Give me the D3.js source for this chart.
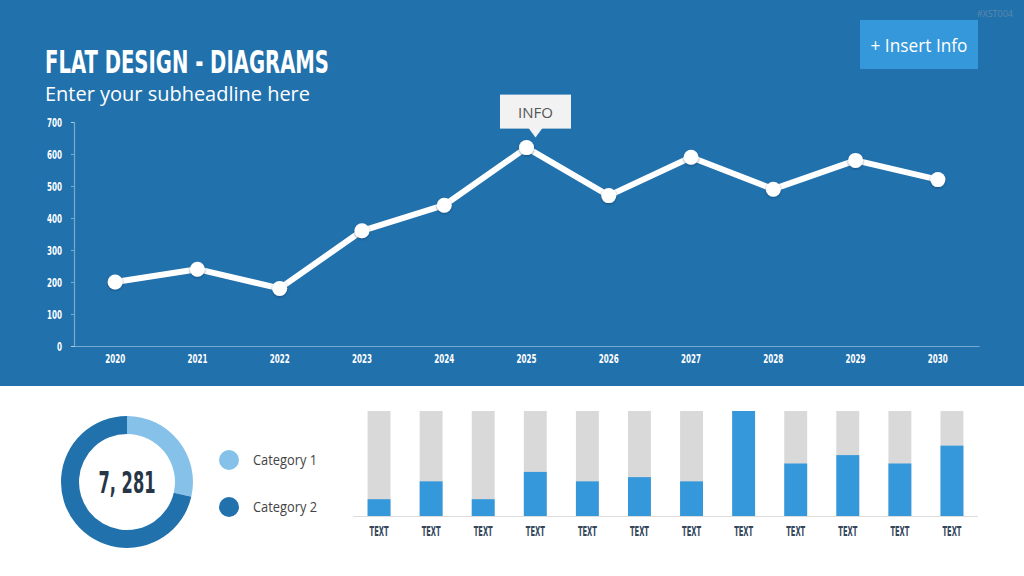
<!DOCTYPE html>
<html>
<head>
<meta charset="utf-8">
<script src="https://cdn.jsdelivr.net/npm/d3@7"></script>
<style>
  body { margin: 0; background: #fff; }
  svg { display: block; }
  .cond { font-family: "DejaVu Sans Condensed", "Liberation Sans Narrow", sans-serif; font-stretch: condensed; font-weight: bold; }
  .body { font-family: "Open Sans", "Noto Sans", sans-serif; }
</style>
</head>
<body>
<div id="chart"></div>
<script>
// line chart data
const years = ['2020', '2021', '2022', '2023', '2024', '2025', '2026', '2027', '2028', '2029', '2030'];
const lineValues = [200, 240, 180, 360, 440, 620, 470, 590, 490, 580, 520];
const yTicks = [0, 100, 200, 300, 400, 500, 600, 700];
const infoYear = '2025';

// donut data
const donutLabels = ['Category 1', 'Category 2'];
const donutValues = [28.6, 71.4];
const donutTotal = '7, 281';

// bar chart data (percent filled)
const barLabels = ['TEXT', 'TEXT', 'TEXT', 'TEXT', 'TEXT', 'TEXT', 'TEXT', 'TEXT', 'TEXT', 'TEXT', 'TEXT', 'TEXT'];
const barValues = [16, 33, 16, 42, 33, 37, 33, 100, 50, 58, 50, 67];
const barMax = 100;

let width = 1024, height = 576;
let blue = '#2171ad', brightBlue = '#3598db', lightBlue = '#85c1e9';

let svg = d3.select('#chart')
  .append('svg')
  .attr('width', width)
  .attr('height', height);

// drop shadow for the line markers
let defs = svg.append('defs');
let shadow = defs.append('filter').attr('id', 'shadow')
  .attr('x', '-50%').attr('y', '-50%').attr('width', '200%').attr('height', '200%');
shadow.append('feDropShadow')
  .attr('dx', 0).attr('dy', 1).attr('stdDeviation', 1)
  .attr('flood-color', '#0b3a5e').attr('flood-opacity', 0.6);

// top blue panel
svg.append('rect')
  .attr('width', width)
  .attr('height', 386)
  .attr('fill', blue);

svg.append('text')
  .attr('class', 'cond')
  .attr('x', 45).attr('y', 73)
  .attr('font-size', 32)
  .attr('textLength', 284)
  .attr('lengthAdjust', 'spacingAndGlyphs')
  .attr('fill', '#fff')
  .text('FLAT DESIGN - DIAGRAMS');

svg.append('text')
  .attr('class', 'body')
  .attr('x', 45).attr('y', 101)
  .attr('font-size', 20)
  .attr('textLength', 265)
  .attr('lengthAdjust', 'spacingAndGlyphs')
  .attr('fill', '#fff')
  .text('Enter your subheadline here');

svg.append('text')
  .attr('class', 'body')
  .attr('x', 1013).attr('y', 17)
  .attr('text-anchor', 'end')
  .attr('font-size', 9)
  .attr('fill', '#5d87aa')
  .text('#XST004');

// insert info button
svg.append('rect')
  .attr('x', 860).attr('y', 20)
  .attr('width', 118).attr('height', 49)
  .attr('fill', brightBlue);
svg.append('text')
  .attr('class', 'body')
  .attr('x', 919).attr('y', 52)
  .attr('text-anchor', 'middle')
  .attr('font-size', 18)
  .attr('textLength', 97)
  .attr('lengthAdjust', 'spacingAndGlyphs')
  .attr('fill', '#fff')
  .text('+ Insert Info');

// Line chart
let x = d3.scaleBand().domain(years).range([74, 979]);
let y = d3.scaleLinear().domain([0, 700]).range([346, 122]);
let cx = d => x(d) + x.bandwidth() / 2;

let yAxis = svg.append('g')
  .attr('class', 'cond')
  .attr('transform', 'translate(74,0)')
  .call(d3.axisLeft(y).tickValues(yTicks).tickSize(3).tickPadding(9));
let xAxis = svg.append('g')
  .attr('class', 'cond')
  .attr('transform', 'translate(0,346)')
  .call(d3.axisBottom(x).tickSize(0).tickPadding(8));
[yAxis, xAxis].forEach(function(ax) {
  ax.select('.domain').attr('stroke', 'rgba(255,255,255,0.4)').attr('stroke-width', 1.2);
  ax.selectAll('.tick line').attr('stroke', 'rgba(255,255,255,0.4)');
  ax.selectAll('.tick text')
    .attr('fill', '#fff')
    .attr('font-size', 13)
    .attr('textLength', function() { return this.textContent.length * 5; })
    .attr('lengthAdjust', 'spacingAndGlyphs');
});

let line = d3.line()
  .x((d, i) => cx(years[i]))
  .y(d => y(d));

svg.append('path')
  .datum(lineValues)
  .attr('d', line)
  .attr('fill', 'none')
  .attr('stroke', '#fff')
  .attr('stroke-width', 6)
  .attr('stroke-linejoin', 'round');

svg.selectAll('.marker')
  .data(lineValues)
  .enter().append('circle')
  .attr('class', 'marker')
  .attr('cx', (d, i) => cx(years[i]))
  .attr('cy', d => y(d))
  .attr('r', 7.5)
  .attr('fill', '#fff')
  .attr('filter', 'url(#shadow)');

// INFO callout over the peak (pointer sits a little right of the point)
let infoX = cx(infoYear) + 9;
let infoY = y(lineValues[years.indexOf(infoYear)]);
let callout = svg.append('g')
  .attr('transform', `translate(${infoX},${infoY})`);
callout.append('rect')
  .attr('x', -35.5).attr('y', -53)
  .attr('width', 71).attr('height', 34)
  .attr('fill', '#f2f2f2');
callout.append('path')
  .attr('d', 'M-7,-19.5 L7,-19.5 L0,-10 Z')
  .attr('fill', '#f2f2f2');
callout.append('text')
  .attr('class', 'body')
  .attr('x', 0).attr('y', -30)
  .attr('text-anchor', 'middle')
  .attr('font-size', 15)
  .attr('fill', '#555')
  .text('INFO');

// Donut
let pie = d3.pie().sort(null).value(d => d);
let arc = d3.arc().innerRadius(48).outerRadius(66);
let donutColor = d3.scaleOrdinal().domain(donutLabels).range([lightBlue, blue]);

let donut = svg.append('g')
  .attr('transform', 'translate(127,482)');
donut.selectAll('path')
  .data(pie(donutValues))
  .enter().append('path')
  .attr('d', arc)
  .attr('fill', (d, i) => donutColor(donutLabels[i]));
donut.append('text')
  .attr('class', 'cond')
  .attr('y', 11)
  .attr('text-anchor', 'middle')
  .attr('font-size', 30)
  .attr('textLength', 57)
  .attr('lengthAdjust', 'spacingAndGlyphs')
  .attr('fill', '#263646')
  .text(donutTotal);

let legend = svg.selectAll('.legend')
  .data(donutLabels)
  .enter().append('g')
  .attr('class', 'legend')
  .attr('transform', (d, i) => `translate(229,${460 + i * 47})`);
legend.append('circle')
  .attr('r', 10)
  .attr('fill', d => donutColor(d));
legend.append('text')
  .attr('class', 'body')
  .attr('x', 24).attr('y', 5)
  .attr('font-size', 14)
  .attr('textLength', 64)
  .attr('lengthAdjust', 'spacingAndGlyphs')
  .attr('fill', '#444')
  .text(d => d);

// Bar chart
let bx = d3.scaleBand().domain(d3.range(barValues.length)).range([353, 978]).paddingInner(0.56).paddingOuter(0.28);
let by = d3.scaleLinear().domain([0, barMax]).range([516, 411]);

svg.selectAll('.barBg')
  .data(barValues)
  .enter().append('rect')
  .attr('class', 'barBg')
  .attr('x', (d, i) => bx(i))
  .attr('y', by(barMax))
  .attr('width', bx.bandwidth())
  .attr('height', by(0) - by(barMax))
  .attr('fill', '#d9d9d9');

svg.selectAll('.bar')
  .data(barValues)
  .enter().append('rect')
  .attr('class', 'bar')
  .attr('x', (d, i) => bx(i))
  .attr('y', d => by(d))
  .attr('width', bx.bandwidth())
  .attr('height', d => by(0) - by(d))
  .attr('fill', brightBlue);

svg.append('line')
  .attr('x1', 353).attr('x2', 978)
  .attr('y1', by(0) + 0.5).attr('y2', by(0) + 0.5)
  .attr('stroke', '#ddd');

svg.selectAll('.barLabel')
  .data(barLabels)
  .enter().append('text')
  .attr('class', 'cond barLabel')
  .attr('x', (d, i) => bx(i) + bx.bandwidth() / 2)
  .attr('y', 536)
  .attr('text-anchor', 'middle')
  .attr('font-size', 14)
  .attr('textLength', 19)
  .attr('lengthAdjust', 'spacingAndGlyphs')
  .attr('fill', '#34465a')
  .text(d => d);
</script>
</body>
</html>
